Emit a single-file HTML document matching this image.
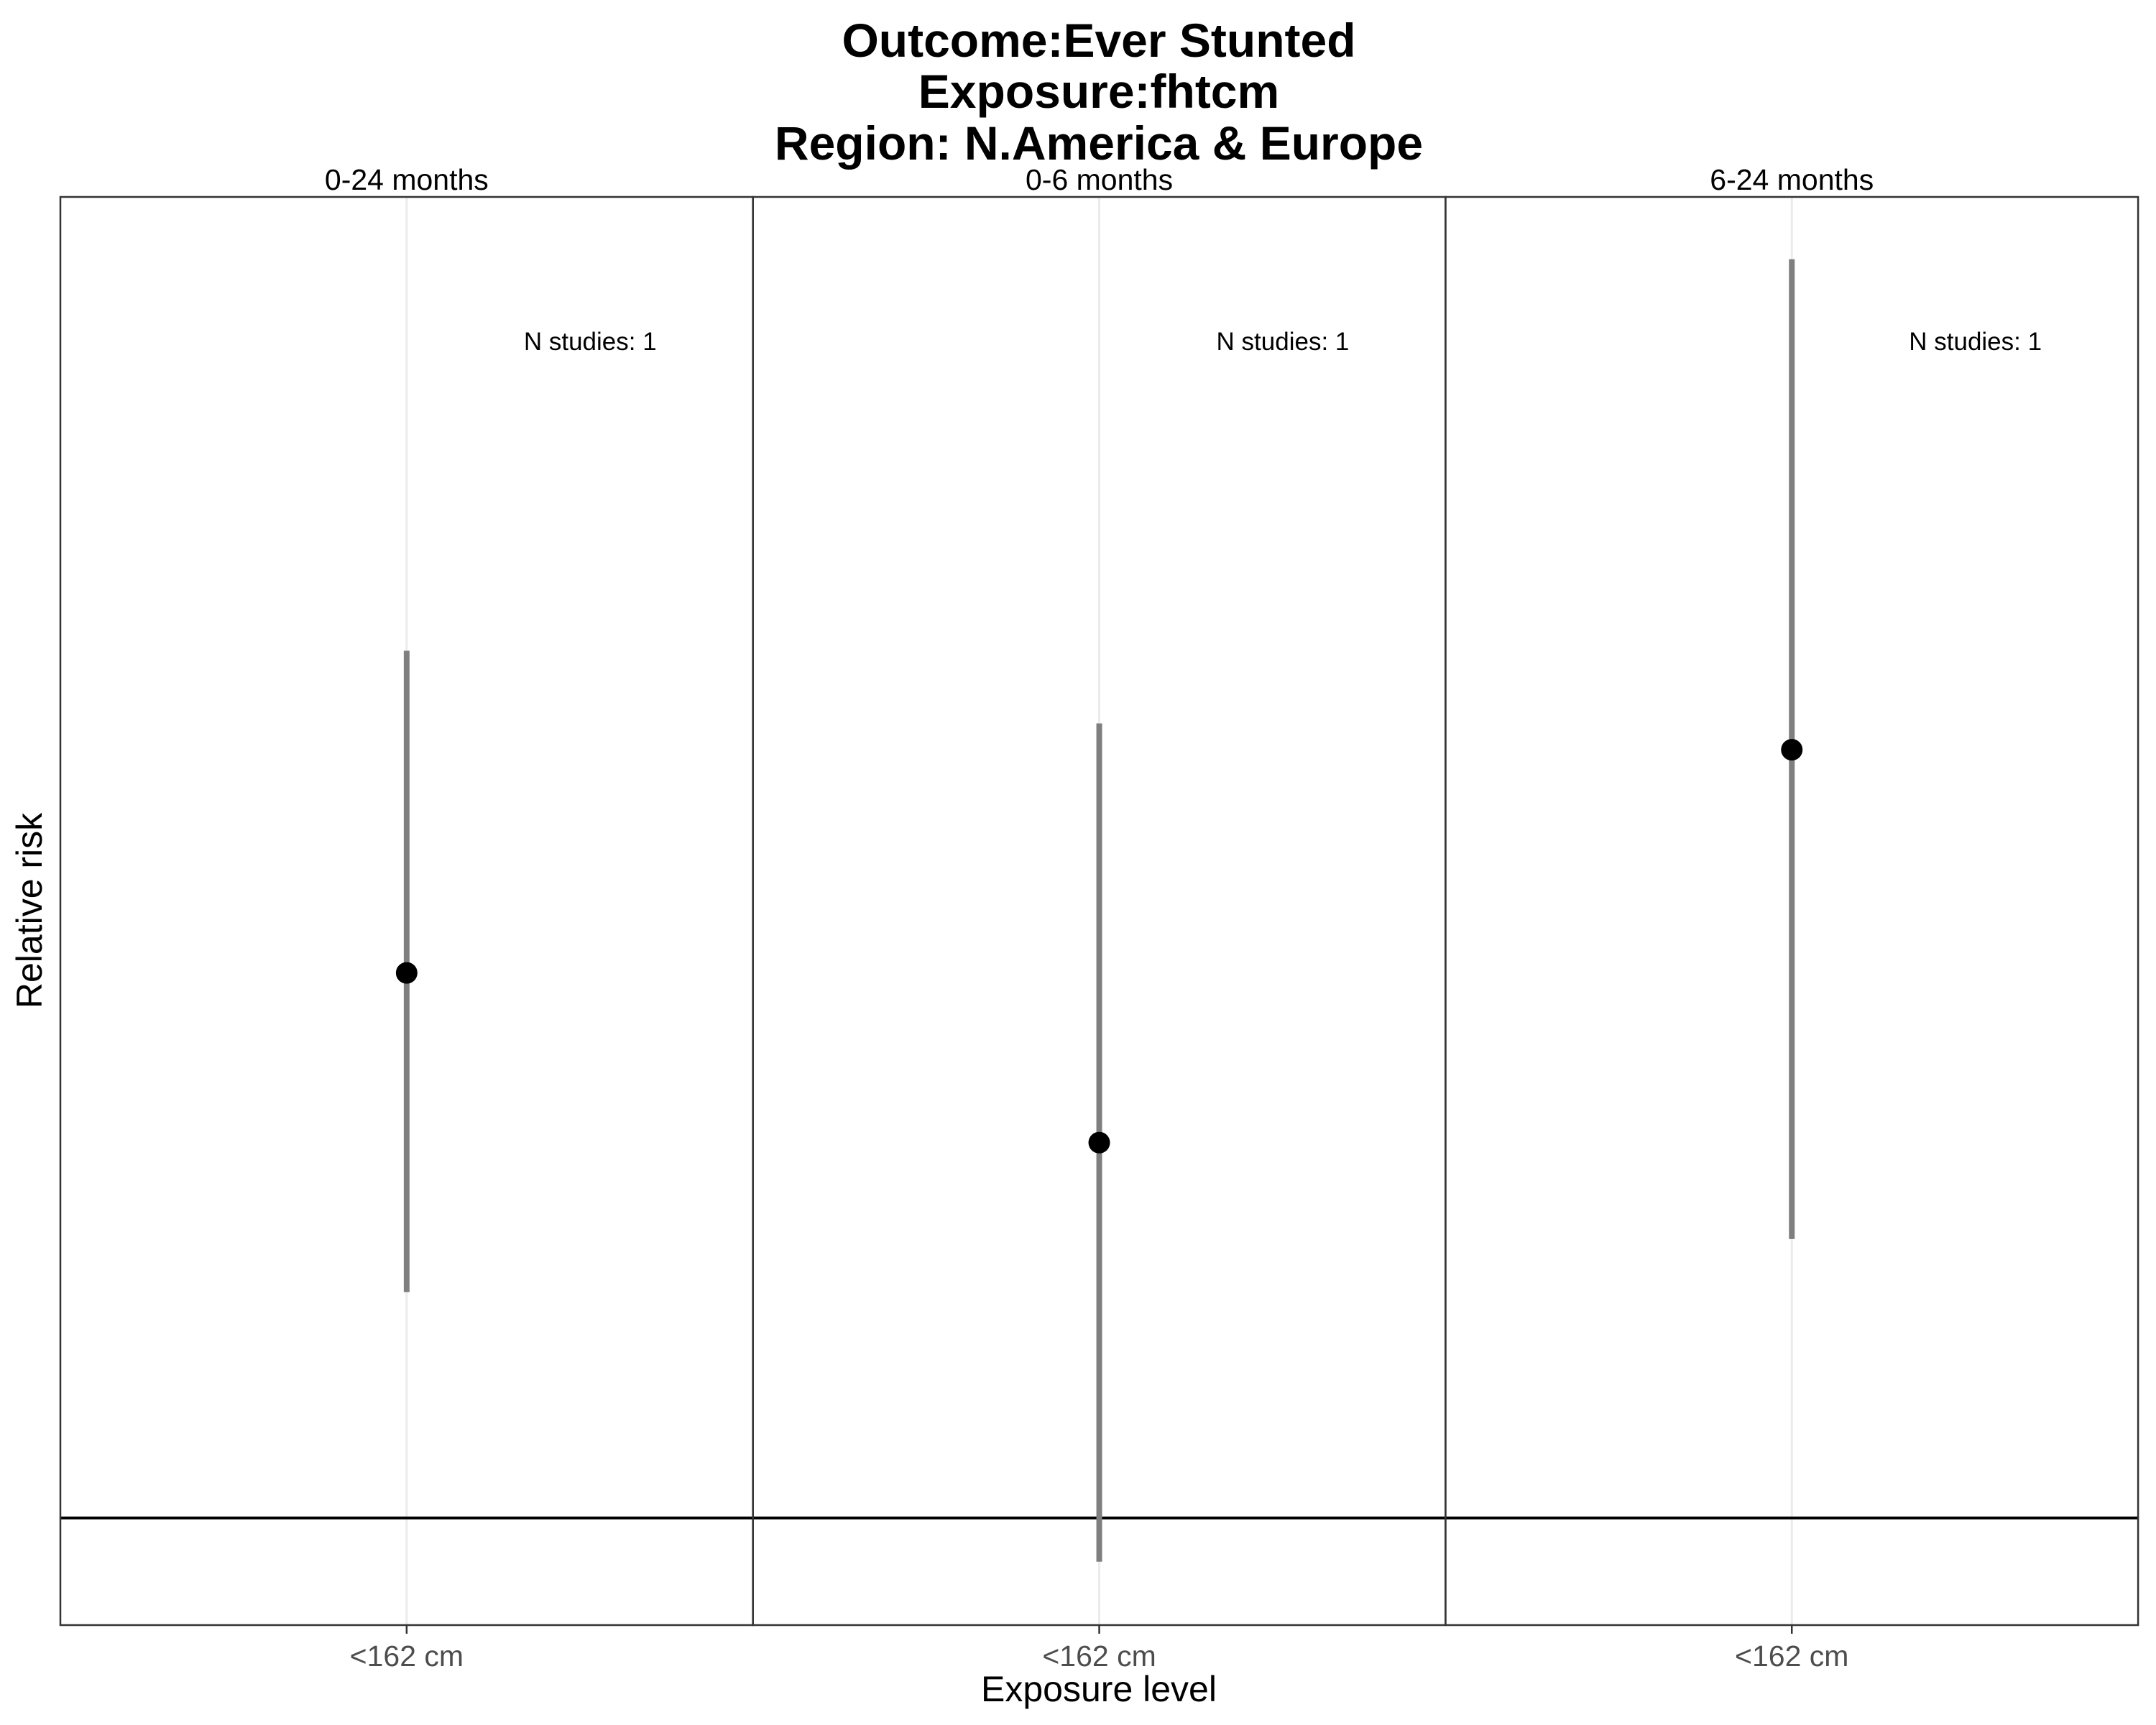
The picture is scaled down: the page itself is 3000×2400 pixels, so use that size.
<!DOCTYPE html>
<html><head><meta charset="utf-8"><style>
html,body{margin:0;padding:0;background:#fff;}
svg{display:block;font-family:"Liberation Sans",sans-serif;}
</style></head><body>
<svg id="chart" width="3000" height="2400" viewBox="0 0 3000 2400">
<g font-weight="bold" font-size="66" text-anchor="middle">
<text x="1529" y="79">Outcome:Ever Stunted</text>
<text x="1529" y="150">Exposure:fhtcm</text>
<text x="1529" y="222">Region: N.America &amp; Europe</text>
</g>
<text x="1529" y="2367" font-size="50" text-anchor="middle">Exposure level</text>
<text transform="translate(58,1267) rotate(-90)" font-size="50" text-anchor="middle">Relative risk</text>
<g id="panels"></g>
</svg>
<script>
const panelLabels = ["0-24 months", "0-6 months", "6-24 months"];
const categories = ["<162 cm"];
const estimates = [1.71, 1.447, 2.13];
const ciLower = [1.249, 0.958, 1.316];
const ciUpper = [2.348, 2.186, 3.452];
const nStudies = [1, 1, 1];
const yDomain = [0.9, 3.67];

const NS = "http://www.w3.org/2000/svg";
const plotTop = 274, plotBottom = 2261, plotLeft = 84, pw = 963.7;
function yScale(v){ const a=Math.log(yDomain[0]), b=Math.log(yDomain[1]); return plotBottom - (Math.log(v)-a)/(b-a)*(plotBottom-plotTop); }
function mk(tag, attrs, parent){ const e=document.createElementNS(NS,tag); for(const k in attrs) e.setAttribute(k,attrs[k]); parent.appendChild(e); return e; }
const g = document.getElementById("panels");
panelLabels.forEach((lab,i)=>{
  const x0 = plotLeft + i*pw, xc = x0 + pw/2;
  const p = mk("g",{},g);
  
  
  const grid = mk("line",{x1:xc,x2:xc,y1:plotTop,y2:plotBottom,stroke:"#ebebeb","stroke-width":3},p);
  
  
  const ref = mk("line",{x1:x0,x2:x0+pw,y1:yScale(1),y2:yScale(1),stroke:"#000","stroke-width":4},p);
  
  
  const ci = mk("line",{x1:xc,x2:xc,y1:yScale(ciLower[i]),y2:yScale(ciUpper[i]),stroke:"#7f7f7f","stroke-width":8},p);
  
  
  const pt = mk("circle",{cx:xc,cy:yScale(estimates[i]),r:15,fill:"#000"},p);
  
  
  const border = mk("rect",{x:x0,y:plotTop,width:pw,height:plotBottom-plotTop,fill:"none",stroke:"#333","stroke-width":2.5},p);
  
  
  const st = mk("text",{x:xc,y:264,"font-size":41,"text-anchor":"middle"},p);
  st.textContent = lab;
  
  
  const ns = mk("text",{x:xc+163,y:487,"font-size":35},p);
  ns.textContent = "N studies: " + nStudies[i];
  
  
  const tk = mk("line",{x1:xc,x2:xc,y1:plotBottom,y2:plotBottom+12,stroke:"#333","stroke-width":2.5},p);
  
  
  const tl = mk("text",{x:xc,y:2318,"font-size":41,"text-anchor":"middle",fill:"#4d4d4d"},p);
  tl.textContent = categories[0];
  
  
});
</script>
</body></html>
